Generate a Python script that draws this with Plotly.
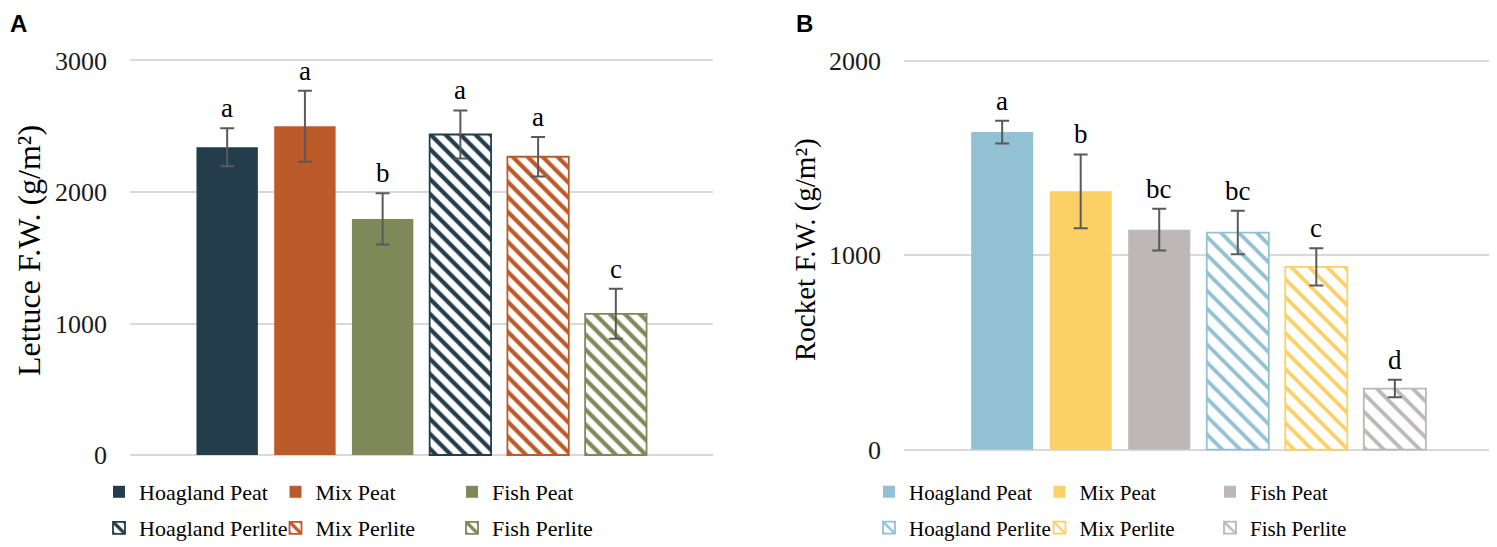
import plotly.graph_objects as go

# --- data ---
treatments = ["Hoagland Peat", "Mix Peat", "Fish Peat",
              "Hoagland Perlite", "Mix Perlite", "Fish Perlite"]

lettuce_fw = [2340, 2500, 1795, 2437, 2268, 1074]
lettuce_err = [145, 270, 195, 183, 150, 190]
lettuce_letters = ["a", "a", "b", "a", "a", "c"]

rocket_fw = [1634, 1329, 1132, 1117, 940, 314]
rocket_err = [58, 190, 108, 112, 96, 45]
rocket_letters = ["a", "b", "bc", "bc", "c", "d"]

lettuce_colors = ["#233D4D", "#BC5A29", "#7F8858"]
rocket_colors = ["#93C1D4", "#FBD166", "#BDB7B7"]

lettuce_ticks = [0, 1000, 2000, 3000]
rocket_ticks = [0, 1000, 2000]

# the page body has an 8px margin, so the figure is a bit smaller than the window
PAD = 8
FW, FH = 1497 - PAD, 547 - PAD
SERIF = "Liberation Serif"


def fx(px):
    return (px - PAD) / FW


def fy(py):
    return 1 - (py - PAD) / FH


fig = go.Figure()

panels = [
    # values, errors, letters, colors, axes suffix, legends, pattern size, solidity
    (lettuce_fw, lettuce_err, lettuce_letters, lettuce_colors, "", ("legend", "legend2"), 10.6, 0.4),
    (rocket_fw, rocket_err, rocket_letters, rocket_colors, "2", ("legend3", "legend4"), 12.7, 0.3),
]

for vals, errs, letters, colors, ax, legs, psize, psol in panels:
    for i, name in enumerate(treatments):
        col = colors[i % 3]
        peat = i < 3
        fig.add_trace(go.Bar(
            x=[i], y=[vals[i]], width=0.79, name=name,
            xaxis="x" + ax, yaxis="y" + ax,
            legend=legs[0] if peat else legs[1],
            marker=dict(
                color=col if peat else "white",
                line=dict(color=col, width=0 if peat else 1.8),
                pattern=dict(shape="" if peat else "\\", fgcolor=col, bgcolor="white",
                             size=psize, solidity=psol, fillmode="replace"),
            ),
            error_y=dict(type="data", array=[errs[i]], color="#595959", thickness=2, width=7),
            hoverinfo="skip",
        ))
        # significance letters above the error bars
        fig.add_annotation(
            x=i, y=vals[i] + errs[i], xref="x" + ax, yref="y" + ax,
            text=letters[i], showarrow=False, yanchor="bottom", yshift=3,
            font=dict(family=SERIF, size=27, color="black"),
        )

axis_common = dict(showgrid=False, showticklabels=False, zeroline=False, showline=False,
                   range=[-1.25, 6.25], fixedrange=True)
yaxis_common = dict(showgrid=True, gridcolor="#D9D9D9", gridwidth=1.5, zeroline=False,
                    showline=False, ticks="", ticklabelstandoff=22,
                    tickfont=dict(family=SERIF, size=26, color="#1a1a1a"), fixedrange=True)

legend_common = dict(orientation="h", xref="paper", yref="paper",
                     xanchor="left", yanchor="middle", entrywidthmode="pixels",
                     bgcolor="rgba(0,0,0,0)", borderwidth=0)

# range padded a little so the 0 and top gridlines are not clipped at the edges
fig.update_layout(
    width=FW, height=FH,
    margin=dict(l=0, r=0, t=0, b=0, autoexpand=False),
    plot_bgcolor="white", paper_bgcolor="white",
    barmode="overlay",
    xaxis=dict(domain=[fx(130), fx(713)], anchor="y", **axis_common),
    yaxis=dict(domain=[fy(456.6), fy(58.9)], anchor="x", range=[-12, 3012],
               tickvals=lettuce_ticks, **yaxis_common),
    xaxis2=dict(domain=[fx(904), fx(1493)], anchor="y2", **axis_common),
    yaxis2=dict(domain=[fy(451.1), fy(59.45)], anchor="x2", range=[-8, 2008],
                tickvals=rocket_ticks, **yaxis_common),
    legend=dict(x=fx(99), y=fy(492), entrywidth=131.5,
                font=dict(family=SERIF, size=22, color="black"), **legend_common),
    legend2=dict(x=fx(99), y=fy(528), entrywidth=131.5,
                 font=dict(family=SERIF, size=22, color="black"), **legend_common),
    legend3=dict(x=fx(869), y=fy(492), entrywidth=125.5,
                 font=dict(family=SERIF, size=21, color="black"), **legend_common),
    legend4=dict(x=fx(869), y=fy(528), entrywidth=125.5,
                 font=dict(family=SERIF, size=21, color="black"), **legend_common),
    showlegend=True,
)

# axis titles and panel labels
fig.add_annotation(x=fx(29), y=fy(251), xref="paper", yref="paper", textangle=-90,
                   text="Lettuce F.W. (g/m²)", showarrow=False,
                   xanchor="center", yanchor="middle",
                   font=dict(family=SERIF, size=32, color="black"))
fig.add_annotation(x=fx(805), y=fy(250), xref="paper", yref="paper", textangle=-90,
                   text="Rocket F.W. (g/m²)", showarrow=False,
                   xanchor="center", yanchor="middle",
                   font=dict(family=SERIF, size=29, color="black"))
fig.add_annotation(x=fx(8), y=fy(8), xref="paper", yref="paper", text="<b>A</b>",
                   showarrow=False, xanchor="left", yanchor="top",
                   font=dict(family="Liberation Sans", size=24, color="black"))
fig.add_annotation(x=fx(794), y=fy(8), xref="paper", yref="paper", text="<b>B</b>",
                   showarrow=False, xanchor="left", yanchor="top",
                   font=dict(family="Liberation Sans", size=24, color="black"))

fig.write_html("out.html")
